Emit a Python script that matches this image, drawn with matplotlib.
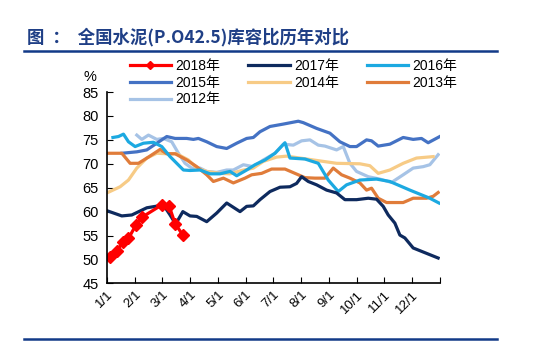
import matplotlib.pyplot as plt
from matplotlib.lines import Line2D

plt.rcParams['font.family'] = ['Liberation Sans', 'Noto Sans CJK SC']

month_labels = ['1/1', '2/1', '3/1', '4/1', '5/1', '6/1', '7/1', '8/1',
                '9/1', '10/1', '11/1', '12/1']

# x = months since 1/1, y = storage ratio (%)
x_2018 = [0.12, 0.36, 0.58, 0.78, 1.05, 1.26, 1.98, 2.25, 2.46, 2.74]
y_2018 = [50.6, 51.7, 53.7, 54.4, 57.2, 58.8, 61.4, 61.1, 57.5, 55.1]

x_2017 = [0.0, 0.54, 0.90, 1.44, 1.86, 2.04, 2.28, 2.48, 2.74, 3.00, 3.24, 3.60,
          3.96, 4.32, 4.56, 4.80, 5.04, 5.28, 5.52, 5.88, 6.24, 6.60, 6.84, 7.02,
          7.26, 7.56, 7.92, 8.28, 8.58, 9.00, 9.42, 9.72, 9.96, 10.14, 10.38,
          10.56, 10.74, 11.04, 11.34, 11.64, 11.94]
y_2017 = [60.2, 59.1, 59.3, 60.8, 61.2, 61.4, 59.3, 57.4, 60.0, 59.1, 59.0, 57.9,
          59.7, 61.8, 60.9, 60.0, 61.1, 61.2, 62.5, 64.2, 65.1, 65.2, 65.9, 67.3,
          66.3, 65.6, 64.5, 63.9, 62.5, 62.5, 62.8, 62.6, 61.1, 59.3, 57.6,
          55.1, 54.5, 52.4, 51.7, 51.0, 50.3]

x_2016 = [0.22, 0.42, 0.60, 0.78, 1.02, 1.32, 1.68, 1.98, 2.28, 2.52, 2.76, 3.00,
          3.36, 3.72, 4.08, 4.44, 4.68, 5.04, 5.34, 5.70, 6.06, 6.42, 6.60, 7.14,
          7.62, 7.98, 8.34, 8.64, 9.12, 9.72, 10.20, 10.92, 11.64, 11.97]
y_2016 = [75.5, 75.7, 76.2, 74.6, 73.6, 74.3, 74.5, 73.6, 71.5, 70.1, 68.7, 68.6,
          68.7, 67.9, 67.9, 68.4, 67.5, 68.7, 69.8, 70.8, 72.2, 74.4, 71.2, 71.0,
          70.1, 66.6, 64.2, 65.6, 66.6, 66.8, 66.3, 64.5, 62.8, 61.8]

x_2015 = [0.54, 1.08, 1.44, 1.80, 2.16, 2.46, 2.88, 3.12, 3.30, 3.60, 3.96, 4.32,
          4.68, 5.04, 5.28, 5.52, 5.88, 6.36, 6.90, 7.08, 7.56, 8.04, 8.40, 8.76,
          9.00, 9.36, 9.54, 9.78, 10.20, 10.68, 11.04, 11.34, 11.58, 12.0]
y_2015 = [72.2, 72.5, 72.9, 74.3, 75.7, 75.3, 75.3, 75.1, 75.3, 74.6, 73.6, 73.2,
          74.3, 75.3, 75.5, 76.7, 77.8, 78.3, 78.9, 78.6, 77.4, 76.4, 74.6, 73.6,
          73.6, 75.0, 74.8, 73.7, 74.1, 75.5, 75.1, 75.3, 74.4, 75.7]

x_2014 = [0.0, 0.48, 0.78, 1.08, 1.44, 1.80, 2.16, 2.52, 2.94, 3.24, 3.60, 4.08,
          4.44, 4.86, 5.28, 5.64, 6.12, 6.48, 6.96, 7.56, 8.28, 9.12, 9.48, 9.78,
          10.20, 10.68, 11.16, 11.76]
y_2014 = [63.9, 65.2, 66.6, 69.1, 71.2, 72.2, 72.1, 72.1, 70.8, 69.1, 68.4, 68.0,
          67.9, 68.6, 69.1, 70.5, 71.4, 71.6, 71.2, 70.7, 70.1, 70.0, 69.6, 68.0,
          68.7, 70.1, 71.2, 71.5]

x_2013 = [0.0, 0.54, 0.84, 1.14, 1.50, 1.92, 2.16, 2.46, 2.88, 3.24, 3.60, 3.84,
          4.20, 4.56, 4.98, 5.22, 5.58, 5.94, 6.42, 6.78, 7.14, 7.50, 7.86, 8.16,
          8.46, 8.76, 9.12, 9.36, 9.54, 9.78, 10.08, 10.68, 11.04, 11.52, 11.76,
          11.94]
y_2013 = [72.2, 72.2, 70.1, 70.1, 71.4, 73.0, 72.1, 72.1, 70.8, 69.4, 67.7, 66.3,
          67.0, 66.0, 67.0, 67.7, 68.0, 68.9, 68.9, 68.0, 67.1, 67.0, 67.0, 69.1,
          67.7, 67.0, 66.0, 64.5, 64.9, 62.8, 61.9, 61.9, 62.8, 62.8, 63.2,
          64.0]

x_2012 = [1.08, 1.26, 1.50, 1.80, 2.04, 2.34, 2.58, 2.82, 3.06, 3.36, 3.60, 3.96,
          4.32, 4.56, 4.92, 5.28, 5.64, 6.06, 6.36, 6.72, 7.02, 7.32, 7.62, 7.86,
          8.28, 8.52, 8.76, 9.00, 9.42, 9.84, 10.26, 10.68, 11.04, 11.40, 11.64,
          11.94]
y_2012 = [76.0, 75.1, 76.0, 75.1, 75.3, 74.6, 72.2, 70.1, 69.1, 69.1, 68.4, 68.2,
          68.7, 68.7, 69.8, 69.4, 70.8, 72.2, 74.1, 73.9, 74.8, 75.0, 73.9, 73.7,
          72.9, 73.6, 70.1, 68.4, 67.3, 66.8, 66.1, 67.7, 69.1, 69.4, 69.8,
          71.9]

fig = plt.figure(figsize=(5.45, 3.46), dpi=100)
ax = fig.add_axes([0.196, 0.181, 0.611, 0.553])

lw = 2.3
h2012, = ax.plot(x_2012, y_2012, color='#A6C3E6', lw=lw, label='2012年')
h2015, = ax.plot(x_2015, y_2015, color='#4472C4', lw=lw, label='2015年')
h2014, = ax.plot(x_2014, y_2014, color='#F7CB86', lw=lw, label='2014年')
h2013, = ax.plot(x_2013, y_2013, color='#E07C3A', lw=lw, label='2013年')
h2016, = ax.plot(x_2016, y_2016, color='#1CA9E1', lw=lw, label='2016年')
h2017, = ax.plot(x_2017, y_2017, color='#0E2A5E', lw=lw, label='2017年')
h2018, = ax.plot(x_2018, y_2018, color='#FF0000', lw=lw, marker='D',
                 markersize=6.5, label='2018年')

ax.set_xlim(0, 12)
ax.set_ylim(45, 85)
ax.set_yticks(range(45, 86, 5))
ax.set_xticks(range(13))
ax.set_xticklabels(month_labels + [''], rotation=45, ha='right',
                   rotation_mode='anchor', fontsize=9.5)
ax.tick_params(axis='y', direction='in', length=4, labelsize=10.5, pad=6)
ax.tick_params(axis='x', direction='in', length=4, pad=4)
for side in ('top', 'right'):
    ax.spines[side].set_visible(False)
for side in ('left', 'bottom'):
    ax.spines[side].set_linewidth(1.2)

# legend is filled column by column, so order handles to read row by row
fig.legend(handles=[h2018, h2015, h2012, h2017, h2014, h2016, h2013],
           loc='upper left', bbox_to_anchor=(0.225, 0.85), ncol=3,
           frameon=False, fontsize=10, handlelength=3.0, handletextpad=0.3,
           columnspacing=2.0, labelspacing=0.2, borderpad=0,
           markerscale=0.7)

fig.text(0.165, 0.778, '%', fontsize=10.5, ha='center', va='center')

title_color = '#1F3F86'
fig.text(0.05, 0.893, '图  ：  全国水泥(P.O42.5)库容比历年对比', fontsize=12.5,
         fontweight='bold', color=title_color, va='center',
         family=['Noto Sans CJK SC'])
fig.add_artist(Line2D([0.044, 0.912], [0.853, 0.853], color='#123A88', lw=1.8))
fig.add_artist(Line2D([0.044, 0.912], [0.02, 0.02], color='#123A88', lw=1.8))

fig.savefig('out.png', dpi=100)
